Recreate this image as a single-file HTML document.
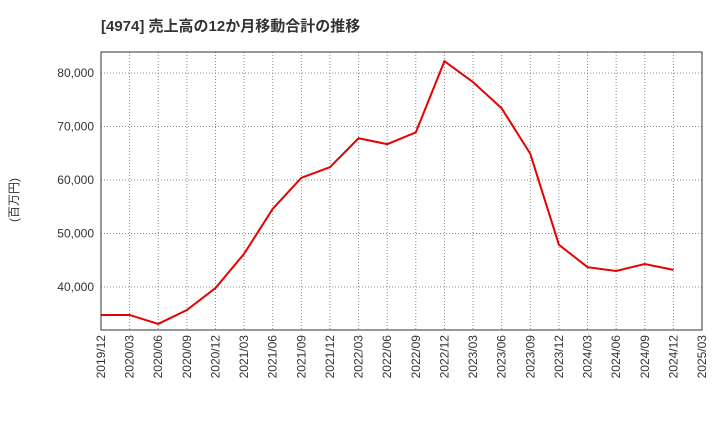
<!DOCTYPE html>
<html><head><meta charset="utf-8"><style>
body{margin:0;background:#fff;font-family:"Liberation Sans","Noto Sans CJK JP",sans-serif}
</style></head><body>
<svg width="720" height="440" xmlns="http://www.w3.org/2000/svg">
<text x="101" y="31" font-size="15" font-weight="bold" fill="#333" font-family="Liberation Sans, Noto Sans CJK JP, sans-serif">[4974]  売上高の12か月移動合計の推移</text>
<text transform="translate(18,200) rotate(-90)" text-anchor="middle" font-size="12" fill="#333" font-family="Liberation Sans, Noto Sans CJK JP, sans-serif">(百万円)</text>
<g id="grid"></g><g id="axes"></g><g id="series"></g>
<rect x="101" y="52" width="601" height="278" fill="none" stroke="#333"/>
</svg>
<script>
const categories=["2019/12","2020/03","2020/06","2020/09","2020/12","2021/03","2021/06","2021/09","2021/12","2022/03","2022/06","2022/09","2022/12","2023/03","2023/06","2023/09","2023/12","2024/03","2024/06","2024/09","2024/12","2025/03"];
const values=[34770,34770,33090,35700,39800,46200,54600,60400,62400,67800,66700,68900,82200,78300,73400,64900,47900,43700,43000,44300,43200];
const yTicks=[40000,50000,60000,70000,80000];
const yTickLabels=["40,000","50,000","60,000","70,000","80,000"];
const NS="http://www.w3.org/2000/svg";
const L=101,R=702,T=52,B=330,yMin=31960,yMax=83925;
const x=i=>L+(R-L)*i/(categories.length-1);
const y=v=>B-(v-yMin)/(yMax-yMin)*(B-T);
function mk(tag,attrs,parent){const e=document.createElementNS(NS,tag);for(const k in attrs)e.setAttribute(k,attrs[k]);document.getElementById(parent).appendChild(e);return e;}
categories.forEach((c,i)=>{
 const g=mk("line",{x1:x(i),x2:x(i),y1:T,y2:B,stroke:"#888","stroke-dasharray":"1,2","stroke-width":1},"grid");
 
 
 const t=mk("text",{transform:`translate(${x(i)+4},${B+5}) rotate(-90)`,"text-anchor":"end","font-size":12,fill:"#333"},"axes");
 t.textContent=c;
 
 
});
yTicks.forEach((v,i)=>{
 const g=mk("line",{x1:L,x2:R,y1:y(v),y2:y(v),stroke:"#888","stroke-dasharray":"1,2","stroke-width":1},"grid");
 
 
 const t=mk("text",{x:L-7,y:y(v)+4,"text-anchor":"end","font-size":12,fill:"#333"},"axes");
 t.textContent=yTickLabels[i];
 
 
});
const p=mk("polyline",{points:values.map((v,i)=>x(i)+","+y(v)).join(" "),fill:"none",stroke:"#e60000","stroke-width":2},"series");


</script>
</body></html>
